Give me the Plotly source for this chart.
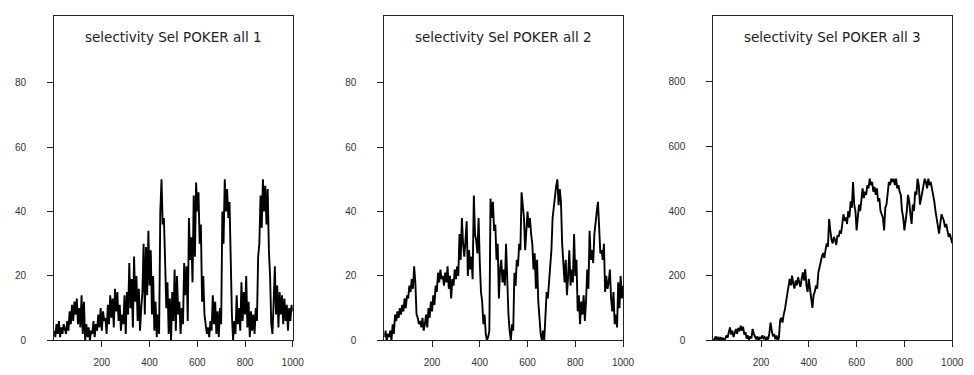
import plotly.graph_objects as go

# x step between consecutive readings (index units)
step = 5

titles = ["selectivity Sel POKER all 1", "selectivity Sel POKER all 2", "selectivity Sel POKER all 3"]

sel1 = [3,1,5,2,6,1,4,2,5,3,
        2,6,3,9,5,11,6,12,8,13,
        5,10,4,14,2,12,0,5,1,4,
        0,3,2,6,1,5,3,8,4,10,
        3,9,6,7,2,11,5,14,7,13,
        4,16,9,15,6,11,3,8,5,14,
        2,15,8,24,10,19,4,26,12,20,
        6,16,3,10,15,30,8,29,14,34,
        17,28,8,20,3,12,1,8,2,40,
        50,36,38,25,10,18,2,13,0,15,
        6,22,3,20,8,12,2,10,5,24,
        14,23,6,38,25,32,18,45,26,49,
        40,46,30,36,12,20,8,5,2,4,
        1,6,3,14,5,12,2,9,1,10,
        5,40,30,50,40,47,38,43,20,8,
        0,6,2,14,5,10,3,18,6,15,
        8,20,4,12,1,9,3,8,2,10,
        6,26,30,45,35,50,40,48,36,47,
        28,20,5,2,12,23,8,17,4,15,
        8,14,5,13,6,11,3,10,6,11,
        9]

sel2 = [1,3,0,2,1,3,0,5,2,8,
        6,9,7,10,8,11,9,13,10,14,
        13,17,15,19,16,23,18,8,7,5,
        6,4,7,3,5,8,4,10,7,12,
        9,14,11,17,15,21,18,22,19,20,
        17,21,18,23,16,20,13,19,17,22,
        19,23,20,33,25,38,30,26,31,37,
        20,28,22,26,19,45,33,31,27,38,
        24,15,12,5,8,2,0,1,3,44,
        38,43,34,36,25,30,13,22,25,18,
        22,17,30,16,8,3,0,5,3,21,
        17,25,23,30,28,46,42,38,28,36,
        40,35,38,33,30,22,27,16,25,12,
        5,2,0,3,0,10,15,13,18,26,
        28,38,42,45,48,50,42,47,43,30,
        22,18,25,14,20,28,17,22,18,33,
        20,25,9,14,5,12,8,14,6,12,
        22,16,34,25,28,24,33,38,40,43,
        36,27,28,25,30,15,20,16,18,22,
        13,9,15,5,8,4,18,10,20,13,
        17]

sel3 = [5,0,12,3,8,0,10,2,6,0,
        4,15,8,22,40,18,30,10,25,35,
        20,38,28,45,30,42,18,25,5,15,
        2,12,6,35,20,8,3,12,0,10,
        4,15,6,10,0,8,3,22,55,30,
        12,20,3,15,0,8,62,70,55,80,
        95,120,140,165,190,170,200,175,160,185,
        170,195,180,165,190,210,185,220,170,150,
        190,160,120,100,140,150,170,160,210,230,
        240,260,270,255,280,300,290,375,340,310,
        300,320,310,295,325,320,340,330,360,390,
        370,380,360,400,380,430,410,490,420,400,
        340,380,420,400,450,470,440,460,450,480,
        470,500,480,490,460,475,450,470,430,440,
        400,390,380,340,410,420,470,490,480,500,
        490,500,480,500,470,480,460,450,400,380,
        340,370,400,450,430,390,360,420,400,460,
        450,500,480,420,440,470,480,500,490,470,
        500,480,490,470,460,430,400,380,350,330,
        360,390,380,370,350,360,340,320,330,310,
        300]

x_ticks = [200, 400, 600, 800, 1000]
y_ticks_small = [0, 20, 40, 60, 80]
y_ticks_large = [0, 200, 400, 600, 800]

series = [sel1, sel2, sel3]
y_ticks = [y_ticks_small, y_ticks_small, y_ticks_large]
y_max = [100.8, 100.8, 1004]

W, H = 974, 375
x_domains = [(46.7 / W, 288.3 / W), (381 / W, 622.7 / W), (714 / W, 956 / W)]
y_domain = (1 - 337.7 / H, 1 - 8 / H)

fig = go.Figure()
tick_font = dict(family="Liberation Sans, Arial, sans-serif", size=10, color="#333")

for i, ys in enumerate(series):
    xs = [k * step for k in range(len(ys))]
    sfx = "" if i == 0 else str(i + 1)
    fig.add_trace(go.Scatter(x=xs, y=ys, mode="lines",
                             line=dict(color="black", width=1.9),
                             xaxis="x" + sfx, yaxis="y" + sfx,
                             showlegend=False, hoverinfo="skip"))
    xa = dict(domain=list(x_domains[i]), range=[0, 1000], anchor="y" + sfx,
              tickvals=x_ticks, ticks="outside", ticklen=6, tickcolor="#222",
              showline=True, mirror=True, linecolor="#222", linewidth=1,
              showgrid=False, zeroline=False, tickfont=tick_font,
              ticklabelstandoff=7)
    ya = dict(domain=list(y_domain), range=[0, y_max[i]], anchor="x" + sfx,
              tickvals=y_ticks[i], ticks="outside", ticklen=6, tickcolor="#222",
              showline=True, mirror=True, linecolor="#222", linewidth=1,
              showgrid=False, zeroline=False, tickfont=tick_font,
              ticklabelstandoff=19)
    fig.layout["xaxis" + sfx] = xa
    fig.layout["yaxis" + sfx] = ya
    fig.add_annotation(text=titles[i], xref="x" + sfx + " domain", yref="paper",
                       x=0.5, y=1 - 29.3 / H, showarrow=False,
                       font=dict(family="DejaVu Sans, sans-serif", size=13.5, color="#222"),
                       xanchor="center", yanchor="middle")

fig.update_layout(width=W, height=H, margin=dict(l=0, r=0, t=0, b=0),
                  paper_bgcolor="white", plot_bgcolor="white")

fig.write_html("out.html")
